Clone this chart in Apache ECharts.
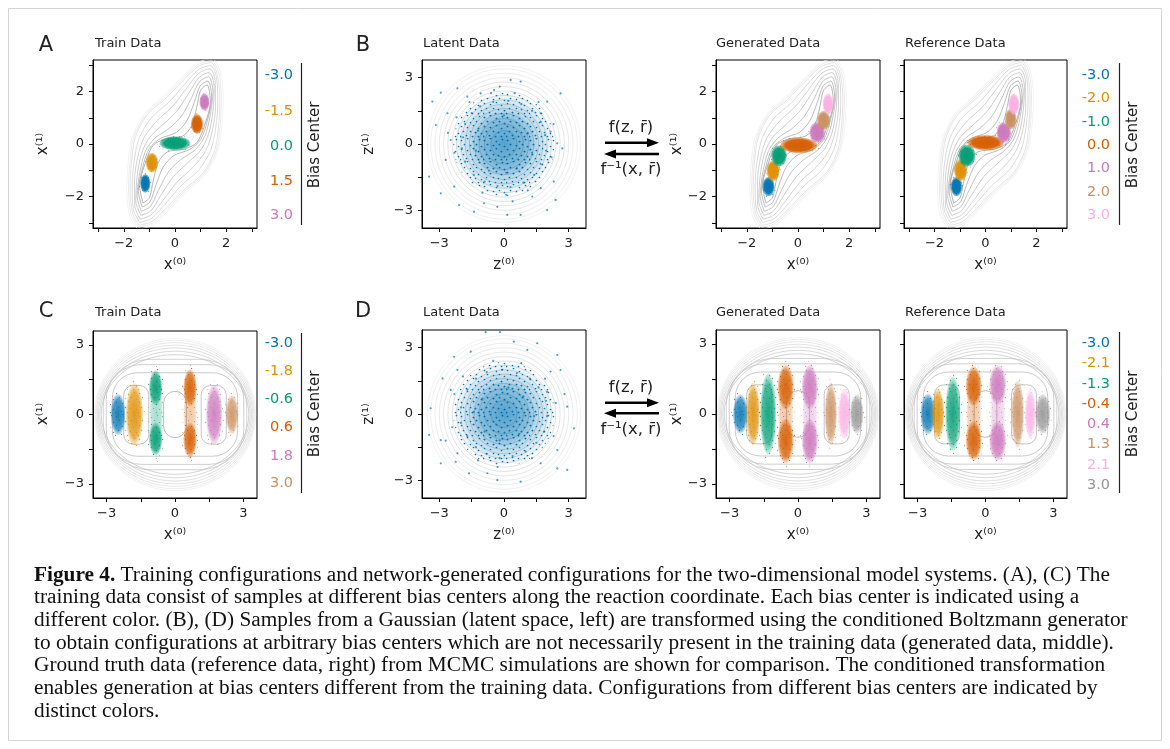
<!DOCTYPE html>
<html>
<head>
<meta charset="utf-8">
<title>Figure 4</title>
<script src="https://cdn.jsdelivr.net/npm/echarts@6/dist/echarts.min.js"></script>
<style>
  html, body { margin: 0; padding: 0; background: #fff; }
  #main { width: 1170px; height: 749px; }
</style>
</head>
<body>
<div id="main"></div>
<script>
// seaborn "colorblind" palette, one colour per bias centre
const palette = ['#0173b2', '#de8f05', '#029e73', '#d55e00', '#cc78bc', '#ca9161', '#fbafe4', '#949494'];

// legend labels (bias centres)
const trainTopCenters = ['-3.0', '-1.5', '0.0', '1.5', '3.0'];
const genTopCenters = ['-3.0', '-2.0', '-1.0', '0.0', '1.0', '2.0', '3.0'];
const trainBotCenters = ['-3.0', '-1.8', '-0.6', '0.6', '1.8', '3.0'];
const genBotCenters = ['-3.0', '-2.1', '-1.3', '-0.4', '0.4', '1.3', '2.1', '3.0'];

// axis ticks
const wellTicks = [-3, -2, -1, 0, 1, 2, 3];
const wellLabels = [-2, 0, 2];
const ringTicks = [-3, -1.5, 0, 1.5, 3];
const ringLabels = [-3, 0, 3];

// sample clouds: [colour index, centre x, centre y, half width, half height]
const trainTopBlobs = [
  [0, -1.16, -1.5, 0.2, 0.36],
  [1, -0.9, -0.71, 0.24, 0.38],
  [2, 0.0, 0.03, 0.6, 0.27],
  [3, 0.86, 0.76, 0.24, 0.38],
  [4, 1.15, 1.6, 0.2, 0.33]
];
const genTopBlobs = [
  [0, -1.15, -1.62, 0.24, 0.37],
  [1, -0.97, -1.02, 0.26, 0.4],
  [2, -0.74, -0.45, 0.31, 0.4],
  [3, 0.03, -0.05, 0.72, 0.3],
  [4, 0.75, 0.44, 0.31, 0.4],
  [5, 1.0, 0.9, 0.26, 0.37],
  [6, 1.17, 1.52, 0.21, 0.4]
];
const refTopBlobs = [
  [0, -1.14, -1.62, 0.23, 0.37],
  [1, -0.98, -1.0, 0.26, 0.42],
  [2, -0.73, -0.45, 0.34, 0.42],
  [3, 0.0, 0.05, 0.72, 0.29],
  [4, 0.72, 0.44, 0.29, 0.4],
  [5, 0.99, 0.95, 0.23, 0.4],
  [6, 1.11, 1.52, 0.22, 0.4]
];
const trainBotBlobs = [
  [0, -2.5, 0.0, 0.33, 0.9],
  [1, -1.78, 0.0, 0.38, 1.35],
  [2, -0.85, 1.15, 0.3, 0.75],
  [2, -0.85, -1.05, 0.3, 0.7],
  [3, 0.66, 1.15, 0.3, 0.8],
  [3, 0.66, -1.1, 0.3, 0.75],
  [4, 1.72, 0.0, 0.36, 1.3],
  [5, 2.5, 0.0, 0.28, 0.85]
];
const trainBotBands = [
  [2, -0.82, 0.05, 0.3, 1.95],
  [3, 0.66, 0.05, 0.3, 1.95]
];
const genBotBlobs = [
  [0, -2.53, 0.0, 0.33, 0.85],
  [1, -1.97, 0.0, 0.3, 1.35],
  [2, -1.31, 0.0, 0.36, 1.75],
  [3, -0.54, 1.15, 0.36, 0.95],
  [3, -0.54, -1.15, 0.36, 0.95],
  [4, 0.52, 1.15, 0.36, 0.95],
  [4, 0.52, -1.15, 0.36, 0.95],
  [5, 1.44, 0.0, 0.27, 1.35],
  [6, 2.03, 0.0, 0.27, 1.1],
  [7, 2.58, 0.0, 0.3, 0.85]
];
const genBotBands = [
  [3, -0.54, 0.0, 0.34, 2.2],
  [4, 0.52, 0.0, 0.34, 2.2]
];
const refBotBlobs = [
  [0, -2.54, 0.0, 0.34, 0.88],
  [1, -2.1, 0.0, 0.28, 1.1],
  [2, -1.44, 0.0, 0.34, 1.6],
  [3, -0.52, 1.2, 0.36, 0.85],
  [3, -0.52, -1.15, 0.36, 0.85],
  [4, 0.54, 1.25, 0.38, 0.85],
  [4, 0.54, -1.15, 0.38, 0.85],
  [5, 1.42, 0.0, 0.28, 1.45],
  [6, 1.98, 0.0, 0.24, 1.05],
  [7, 2.53, 0.0, 0.34, 0.86]
];
const refBotBands = [
  [3, -0.52, 0.0, 0.34, 2.0],
  [4, 0.54, 0.0, 0.34, 2.0]
];

// latent gaussian samples (individually visible points) and the dense core
const latentBPoints = [
  [-3.32, 1.92], [-2.93, 2.32], [-2.16, 2.52], [2.62, 2.29], [0.31, 2.9], [0.77, 2.82], [-3.16, 0.86],
  [-3.47, -1.48], [-2.93, -2.23], [-2.7, -0.72], [-2.31, -1.93], [-1.39, -3.06], [0.15, -3.21], [0.77, -3.21],
  [2.0, -2.99], [2.39, -2.53], [2.31, -1.7], [2.16, 0.56], [2.47, 0.03], [1.7, 1.39], [2.0, 1.92],
  [-1.7, 2.14], [-0.46, 2.44], [-1.08, 2.29], [-2.47, 0.18], [-2.62, 1.39], [1.7, -2.0], [1.31, -2.38],
  [-0.93, -2.68], [-0.31, -2.84], [-2.08, -2.76],
  [-1.8, 0.9], [-1.5, 1.4], [-1.1, 1.7], [-0.5, 1.9], [0.2, 1.95], [0.8, 1.8], [1.3, 1.5], [1.7, 1.0],
  [1.9, 0.4], [1.95, -0.3], [1.7, -0.9], [1.4, -1.4], [0.9, -1.75], [0.3, -1.95], [-0.3, -1.9], [-0.9, -1.7],
  [-1.4, -1.4], [-1.8, -0.8], [-1.95, -0.2], [-1.9, 0.3], [-2.2, 1.2], [-2.3, -0.4], [2.3, 0.9], [2.2, -0.6],
  [-0.6, 2.3], [0.5, 2.3], [0.1, -2.3], [-1.0, -2.2], [1.1, -2.1], [1.6, 1.9], [-1.6, 1.9], [-1.2, 0.6],
  [1.1, 0.5], [0.6, -1.1], [-0.7, -1.2], [-1.3, -0.3], [1.3, -0.4], [0.0, 1.3], [0.1, -1.3], [-2.6, 0.5],
  [2.7, -0.2], [-0.2, 2.6], [0.4, -2.6]
];
const latentDPoints = [
  [-0.85, 3.7], [-0.19, 3.7], [1.54, 3.2], [2.47, 2.67], [-2.31, 2.59], [-1.54, 2.82], [2.62, 1.99],
  [2.16, 1.92], [-3.4, 0.26], [-3.47, -0.95], [-2.93, -2.23], [-2.24, -2.16], [-1.62, -2.68], [-0.77, -2.68],
  [0.77, -3.06], [2.47, -2.46], [2.93, -2.53], [3.24, -0.65], [2.93, 0.33], [2.0, 1.01], [-2.85, 1.61],
  [-2.16, 1.99], [-2.47, 1.09], [0.46, 3.27], [1.08, 2.9], [-0.31, -2.99], [1.7, -2.23], [2.47, -1.63],
  [-2.93, -1.18], [-2.16, -1.78],
  [-1.7, 1.1], [-1.3, 1.6], [-0.8, 1.9], [-0.1, 2.0], [0.6, 1.85], [1.2, 1.6], [1.6, 1.2], [1.95, 0.6],
  [2.0, -0.1], [1.85, -0.8], [1.5, -1.3], [1.0, -1.7], [0.4, -1.9], [-0.2, -2.0], [-0.8, -1.8], [-1.3, -1.5],
  [-1.7, -1.0], [-2.0, -0.4], [-2.0, 0.3], [-2.3, 0.9], [-2.4, -0.6], [2.4, 0.5], [2.3, -1.0], [-0.5, 2.4],
  [0.8, 2.3], [-0.3, -2.4], [1.3, -2.0], [-1.2, -2.1], [1.9, 1.6], [-1.9, 1.7], [-1.0, 0.7], [0.9, 0.8],
  [0.7, -0.9], [-0.9, -0.8], [-1.4, 0.1], [1.4, -0.1], [0.2, 1.2], [-0.2, -1.2], [2.8, 0.9], [-2.7, -1.2]
];
// dense core of the latent cloud: [colour index, x, y, half width, half height]
const latentCore = [[0, 0.0, 0.0, 2.35, 2.35], [0, 0.0, 0.0, 1.55, 1.55]];

// potential contours
// top row: half loops (bottom tip -> right side -> top tip), other half is the point mirror
const wellLoops = [
  [[-1.45, -3.25], [-0.88, -3.1], [-0.22, -2.5], [0.5, -1.78], [1.2, -1.15], [1.67, -0.25], [1.83, 0.72], [1.88, 1.75], [1.77, 2.75], [1.45, 3.25]],
  [[-1.42, -3.17], [-0.89, -3.02], [-0.26, -2.45], [0.45, -1.74], [1.15, -1.12], [1.61, -0.25], [1.76, 0.71], [1.81, 1.72], [1.71, 2.7], [1.42, 3.17]],
  [[-1.4, -3.1], [-0.9, -2.95], [-0.3, -2.4], [0.4, -1.7], [1.1, -1.1], [1.55, -0.25], [1.7, 0.7], [1.75, 1.7], [1.65, 2.65], [1.4, 3.1]],
  [[-1.38, -2.99], [-0.91, -2.83], [-0.37, -2.27], [0.26, -1.57], [0.92, -1.0], [1.39, -0.24], [1.59, 0.62], [1.67, 1.57], [1.62, 2.51], [1.38, 2.99]],
  [[-1.36, -2.86], [-0.93, -2.7], [-0.45, -2.12], [0.11, -1.42], [0.71, -0.88], [1.21, -0.24], [1.46, 0.52], [1.58, 1.42], [1.57, 2.36], [1.36, 2.86]],
  [[-1.33, -2.72], [-0.95, -2.55], [-0.55, -1.95], [-0.07, -1.25], [0.47, -0.74], [1.01, -0.23], [1.32, 0.41], [1.48, 1.25], [1.53, 2.18], [1.33, 2.72]],
  [[-1.31, -2.56], [-0.96, -2.38], [-0.65, -1.77], [-0.26, -1.07], [0.22, -0.6], [0.79, -0.22], [1.16, 0.29], [1.37, 1.07], [1.48, 1.99], [1.31, 2.56]],
  [[-1.28, -2.4], [-0.98, -2.21], [-0.75, -1.58], [-0.46, -0.88], [-0.05, -0.44], [0.57, -0.21], [1.0, 0.17], [1.26, 0.88], [1.43, 1.79], [1.28, 2.4]],
  [[-1.25, -2.25], [-1.0, -2.05], [-0.85, -1.4], [-0.65, -0.7], [-0.3, -0.3], [0.35, -0.2], [0.85, 0.05], [1.15, 0.7], [1.38, 1.6], [1.25, 2.25]]
];
// bottom row: rounded boxes [x0, y0, x1, y1, roundness] and outer ovals [rx, ry]
const ringBoxes = [
  [-0.5, -1.0, 0.5, 1.0, 1.0],
  [-2.25, -1.28, -1.15, 1.25, 0.75],
  [1.15, -1.28, 2.25, 1.25, 0.75],
  [-2.75, -1.8, 2.75, 1.8, 0.6],
  [-3.02, -2.15, 3.02, 2.15, 0.7],
  [-3.15, -2.38, 3.15, 2.38, 0.85]
];
const ringOvals = [[3.24, 2.58], [3.3, 2.73], [3.36, 2.87], [3.41, 2.99], [3.46, 3.1], [3.5, 3.2], [3.54, 3.28]];
// latent gaussian: circle radii
const latentRadii = [0.6, 0.9, 1.15, 1.38, 1.6, 1.8, 2.0, 2.2, 2.4, 2.6, 2.8, 3.0, 3.2, 3.4, 3.55];

// ---------------------------------------------------------------
const FONT = '"DejaVu Sans"';
const chart = echarts.init(document.getElementById('main'), null, { renderer: 'canvas' });

function rgba(hex, a) {
  const n = parseInt(hex.slice(1), 16);
  return 'rgba(' + (n >> 16) + ',' + ((n >> 8) & 255) + ',' + (n & 255) + ',' + a + ')';
}
function grey(t) { // t: 0 darker .. 1 light
  const v = Math.round(150 + t * 88);
  return 'rgb(' + v + ',' + v + ',' + v + ')';
}
function fmtTick(v) {
  return v < 0 ? '\u2212' + Math.abs(v) : String(v);
}

// dotted texture used to give the sample clouds a scattered look
const dotTile = [[1, 2], [7, 0], [13, 3], [19, 1], [4, 6], [10, 7], [16, 6], [21, 8], [1, 11], [7, 12],
  [13, 10], [18, 13], [3, 16], [10, 16], [15, 17], [21, 18], [6, 20], [12, 21], [18, 21], [0, 21]];
const speckleCache = {};
function speckle(col, size) {
  const key = col + size;
  if (speckleCache[key]) return speckleCache[key];
  const cv = document.createElement('canvas');
  cv.width = 23; cv.height = 23;
  const ctx = cv.getContext('2d');
  ctx.fillStyle = col;
  dotTile.forEach(function (d) {
    ctx.beginPath(); ctx.arc(d[0] + 0.5, d[1] + 0.5, size, 0, Math.PI * 2); ctx.fill();
  });
  speckleCache[key] = { image: cv, repeat: 'repeat' };
  return speckleCache[key];
}

// panels: [left, top, width, height]
const boxes = [
  [93, 60, 164, 168], [422, 60, 164, 168], [716, 60, 164, 168], [904, 60, 163, 168],
  [93, 331, 164, 167], [422, 330, 164, 168], [716, 330, 164, 168], [904, 330, 163, 168]
];
const kinds = ['well', 'latent', 'well', 'well', 'ring', 'latent', 'ring', 'ring'];

const grids = [], xAxes = [], yAxes = [];
boxes.forEach(function (b, i) {
  grids.push({ left: b[0], top: b[1], width: b[2], height: b[3], show: true, borderColor: '#000', borderWidth: 1, backgroundColor: 'transparent' });
  const k = kinds[i];
  const lim = k === 'well' ? 3.2 : (k === 'latent' ? 3.8 : 3.6);
  const ticks = k === 'well' ? wellTicks : ringTicks;
  const labels = k === 'well' ? wellLabels : ringLabels;
  const base = function (showLabel) {
    return {
      gridIndex: i, type: 'value', min: -lim, max: lim,
      axisLine: { show: true, onZero: false, lineStyle: { color: '#000', width: 1 } },
      axisTick: { show: true, customValues: ticks, length: 4, lineStyle: { color: '#000', width: 1 } },
      axisLabel: { show: showLabel, customValues: labels, formatter: fmtTick, color: '#222', fontSize: 13, margin: 9, fontFamily: FONT },
      splitLine: { show: false }
    };
  };
  xAxes.push(base(true));
  yAxes.push(base(i !== 3 && i !== 7));
});

const series = [];

// look: [core alpha, mid alpha, edge alpha, halo scale, halo opacity, dot size]
function blobRender(look) {
  return function (params, api) {
    const c = api.coord([api.value(1), api.value(2)]);
    const s = api.size([api.value(3), api.value(4)]);
    const col = palette[api.value(0)];
    const children = [];
    if (look[4] > 0) {
      children.push({
        type: 'ellipse',
        shape: { cx: c[0], cy: c[1], rx: s[0] * look[3], ry: s[1] * (1 + (look[3] - 1) * 0.6) },
        style: { fill: speckle(col, look[5]), opacity: look[4] }
      });
    }
    children.push({
      type: 'circle',
      x: c[0], y: c[1],
      scaleY: s[1] / s[0],
      shape: { cx: 0, cy: 0, r: s[0] },
      style: {
        fill: new echarts.graphic.RadialGradient(0.5, 0.5, 0.5, [
          { offset: 0, color: rgba(col, look[0]) },
          { offset: 0.72, color: rgba(col, look[1]) },
          { offset: 1, color: rgba(col, look[2]) }
        ])
      }
    });
    return { type: 'group', children: children };
  };
}
function addBlobs(g, data, look, z) {
  series.push({ type: 'custom', xAxisIndex: g, yAxisIndex: g, data: data, renderItem: blobRender(look), clip: true, silent: true, z: z });
}

function addWellContours(g) {
  wellLoops.forEach(function (half, i) {
    const full = half.concat(half.slice(1).map(function (p) { return [-p[0], -p[1]]; }));
    series.push({
      type: 'line', xAxisIndex: g, yAxisIndex: g, data: full, smooth: 0.3, symbol: 'none',
      lineStyle: { color: grey(1 - i / (wellLoops.length - 1)), width: 0.7 }, silent: true, clip: true, z: 1
    });
  });
}

function addRingContours(g) {
  series.push({
    type: 'custom', xAxisIndex: g, yAxisIndex: g, data: ringBoxes, clip: true, silent: true, z: 1,
    renderItem: function (params, api) {
      const p0 = api.coord([api.value(0), api.value(3)]);
      const p1 = api.coord([api.value(2), api.value(1)]);
      const w = p1[0] - p0[0], h = p1[1] - p0[1];
      return {
        type: 'rect',
        shape: { x: p0[0], y: p0[1], width: w, height: h, r: api.value(4) * Math.min(w, h) / 2 },
        style: { fill: 'none', stroke: grey(0.12 + params.dataIndex / 14), lineWidth: 0.7 }
      };
    }
  });
  series.push({
    type: 'custom', xAxisIndex: g, yAxisIndex: g, data: ringOvals.map(function (o) { return [0, 0, o[0], o[1]]; }), clip: true, silent: true, z: 1,
    renderItem: function (params, api) {
      const c = api.coord([api.value(0), api.value(1)]);
      const s = api.size([api.value(2), api.value(3)]);
      return {
        type: 'ellipse',
        shape: { cx: c[0], cy: c[1], rx: s[0], ry: s[1] },
        style: { fill: 'none', stroke: grey(0.5 + 0.5 * params.dataIndex / (ringOvals.length - 1)), lineWidth: 0.7 }
      };
    }
  });
}

function addLatent(g, pts) {
  series.push({
    type: 'custom', xAxisIndex: g, yAxisIndex: g, data: latentRadii.map(function (r) { return [0, 0, r]; }), clip: true, silent: true, z: 1,
    renderItem: function (params, api) {
      const c = api.coord([api.value(0), api.value(1)]);
      const s = api.size([api.value(2), api.value(2)]);
      return {
        type: 'ellipse',
        shape: { cx: c[0], cy: c[1], rx: s[0], ry: s[1] },
        style: { fill: 'none', stroke: grey(0.3 + 0.7 * params.dataIndex / (latentRadii.length - 1)), lineWidth: 0.7 }
      };
    }
  });
  addBlobs(g, latentCore, [0.42, 0.24, 0.0, 1.0, 0.95, 0.85], 3);
  series.push({
    type: 'scatter', xAxisIndex: g, yAxisIndex: g, data: pts, symbolSize: 2.2,
    itemStyle: { color: rgba(palette[0], 0.85) }, silent: true, z: 4
  });
}

const topLook = [1, 0.95, 0.35, 1.22, 0.55, 0.7];
const botLook = [0.9, 0.7, 0.12, 1.2, 0.75, 0.7];
const bandLook = [0.35, 0.25, 0.02, 1.15, 0.55, 0.6];

// top row
addWellContours(0); addBlobs(0, trainTopBlobs, topLook, 3);
addLatent(1, latentBPoints);
addWellContours(2); addBlobs(2, genTopBlobs, topLook, 3);
addWellContours(3); addBlobs(3, refTopBlobs, topLook, 3);
// bottom row
addRingContours(4); addBlobs(4, trainBotBands, bandLook, 2); addBlobs(4, trainBotBlobs, botLook, 3);
addLatent(5, latentDPoints);
addRingContours(6); addBlobs(6, genBotBands, bandLook, 2); addBlobs(6, genBotBlobs, botLook, 3);
addRingContours(7); addBlobs(7, refBotBands, bandLook, 2); addBlobs(7, refBotBlobs, botLook, 3);

// ---------------------------------------------------------------
// annotations
const graphics = [];
function txt(x, y, text, size, extra, rot) {
  const el = {
    type: 'text', x: x, y: y, silent: true,
    style: Object.assign({ text: text, fill: '#222', font: size + 'px ' + FONT, textAlign: 'center', textVerticalAlign: 'middle' }, extra || {})
  };
  if (rot) el.rotation = rot;
  graphics.push(el);
}
function vline(x, y1, y2) {
  graphics.push({ type: 'line', silent: true, shape: { x1: x, y1: y1, x2: x, y2: y2 }, style: { stroke: '#222', lineWidth: 1.2 } });
}

graphics.push({ type: 'rect', silent: true, shape: { x: 8.5, y: 8.5, width: 1153, height: 732 }, style: { fill: 'none', stroke: '#d4d4d4', lineWidth: 1 } });

// panel letters
txt(46, 46, 'A', 21); txt(363, 46, 'B', 21); txt(46, 312, 'C', 21); txt(363, 312, 'D', 21);

// titles
[[95, 44, 'Train Data'], [423, 44, 'Latent Data'], [716, 44, 'Generated Data'], [905, 44, 'Reference Data'],
 [95, 313, 'Train Data'], [423, 313, 'Latent Data'], [716, 313, 'Generated Data'], [905, 313, 'Reference Data']]
  .forEach(function (t) { txt(t[0], t[1], t[2], 13, { textAlign: 'left' }); });

// axis names
const xNames = ['x\u207D\u2070\u207E', 'z\u207D\u2070\u207E', 'x\u207D\u2070\u207E', 'x\u207D\u2070\u207E'];
const yNames = ['x\u207D\u00B9\u207E', 'z\u207D\u00B9\u207E', 'x\u207D\u00B9\u207E'];
[175, 504, 798, 985.5].forEach(function (cx, i) {
  txt(cx, 265, xNames[i], 15);
  txt(cx, 535, xNames[i], 15);
});
[43, 369, 677].forEach(function (cx, i) {
  txt(cx, 144, yNames[i], 15, null, Math.PI / 2);
  txt(cx, 414, yNames[i], 15, null, Math.PI / 2);
});

// legends
function legend(rightX, ys, labels, lineX, ly1, ly2, titleY) {
  labels.forEach(function (l, i) {
    txt(rightX, ys[i], l, 14.5, { textAlign: 'right', fill: palette[i] });
  });
  vline(lineX, ly1, ly2);
  txt(lineX + 14, titleY, 'Bias Center', 15, null, Math.PI / 2);
}
legend(293, [75, 111.5, 146.5, 181.5, 215], trainTopCenters, 301.5, 63, 225, 145);
legend(1110, [75, 98.5, 122, 145, 168.5, 192, 215], genTopCenters, 1119.5, 63, 225, 145);
legend(293, [343, 371.5, 399, 427.5, 456, 483], trainBotCenters, 301.5, 333, 493, 414);
legend(1110, [343, 363.5, 384, 404.5, 424.5, 444.5, 465, 485], genBotCenters, 1119.5, 332, 493, 414);

// transformation arrows
function arrows(yTop, yR, yL, yBot) {
  txt(631, yTop, 'f(z, r\u0304)', 16.5);
  graphics.push({ type: 'line', silent: true, shape: { x1: 605, y1: yR, x2: 650, y2: yR }, style: { stroke: '#000', lineWidth: 2.4 } });
  graphics.push({ type: 'polygon', silent: true, shape: { points: [[647, yR - 4.5], [659, yR], [647, yR + 4.5]] }, style: { fill: '#000' } });
  graphics.push({ type: 'line', silent: true, shape: { x1: 613, y1: yL, x2: 659, y2: yL }, style: { stroke: '#000', lineWidth: 2.4 } });
  graphics.push({ type: 'polygon', silent: true, shape: { points: [[616, yL - 4.5], [604, yL], [616, yL + 4.5]] }, style: { fill: '#000' } });
  txt(631, yBot, 'f\u207B\u00B9(x, r\u0304)', 16.5);
}
arrows(128, 142.7, 154, 170);
arrows(388, 402.7, 413.3, 430);

// caption
const SERIF = '"Liberation Serif"';
const capSize = 21.3;
const captionLines = [
  '{b|Figure 4.}{n| Training configurations and network-generated configurations for the two-dimensional model systems. (A), (C) The}',
  '{n|training data consist of samples at different bias centers along the reaction coordinate. Each bias center is indicated using a}',
  '{n|different color. (B), (D) Samples from a Gaussian (latent space, left) are transformed using the conditioned Boltzmann generator}',
  '{n|to obtain configurations at arbitrary bias centers which are not necessarily present in the training data (generated data, middle).}',
  '{n|Ground truth data (reference data, right) from MCMC simulations are shown for comparison. The conditioned transformation}',
  '{n|enables generation at bias centers different from the training data. Configurations from different bias centers are indicated by}',
  '{n|distinct colors.}'
];
captionLines.forEach(function (line, i) {
  graphics.push({
    type: 'text', x: 34, y: 575 + i * 22.7, silent: true,
    style: {
      text: line, textAlign: 'left', textVerticalAlign: 'middle', fill: '#111',
      font: capSize + 'px ' + SERIF,
      rich: {
        b: { fontFamily: SERIF, fontSize: capSize, fontWeight: 'bold', fill: '#111', color: '#111' },
        n: { fontFamily: SERIF, fontSize: capSize, fill: '#111', color: '#111' }
      }
    }
  });
});

chart.setOption({
  animation: false,
  backgroundColor: '#fff',
  textStyle: { fontFamily: FONT },
  grid: grids,
  xAxis: xAxes,
  yAxis: yAxes,
  series: series,
  graphic: { elements: graphics }
});
</script>
</body>
</html>
